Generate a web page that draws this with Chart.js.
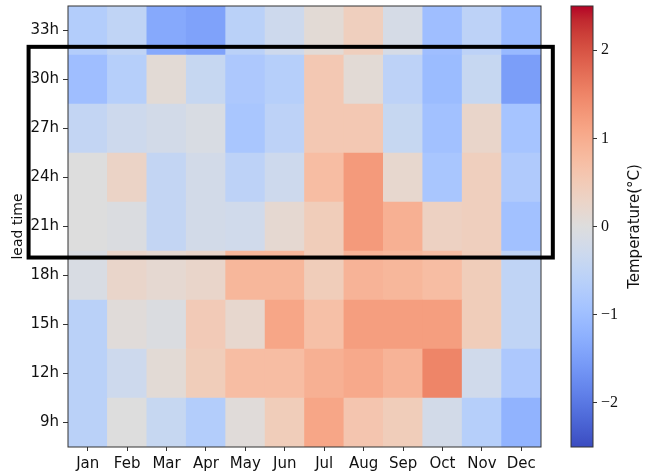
<!DOCTYPE html>
<html>
<head>
<meta charset="utf-8">
<script src="https://cdn.jsdelivr.net/npm/chart.js@4.4.0/dist/chart.umd.min.js"></script>
<style>
body { margin: 0; background: #fff; }
#wrap { position: relative; width: 646px; height: 474px; }
#heat { position: absolute; left: 0; top: 0; }
#cbar { position: absolute; left: 541px; top: 0; }
</style>
</head>
<body>
<div id="wrap">
  <canvas id="heat" width="646" height="474"></canvas>
  <canvas id="cbar" width="105" height="474"></canvas>
</div>
<script>
// categories
var months = ["Jan", "Feb", "Mar", "Apr", "May", "Jun", "Jul", "Aug", "Sep", "Oct", "Nov", "Dec"];
var leadTimes = [9, 12, 15, 18, 21, 24, 27, 30, 33];

// temperature bias (°C) per lead time, Jan..Dec
var lt09 = [-0.6, 0.0, -0.4, -0.7, 0.05, 0.45, 1.1, 0.6, 0.45, -0.2, -0.65, -1.2];
var lt12 = [-0.6, -0.3, 0.1, 0.45, 0.75, 0.75, 0.95, 1.05, 0.9, 1.5, -0.25, -0.8];
var lt15 = [-0.6, 0.05, -0.05, 0.5, 0.2, 1.1, 0.7, 1.2, 1.2, 1.2, 0.45, -0.5];
var lt18 = [-0.1, 0.25, 0.15, 0.25, 0.85, 0.85, 0.45, 0.9, 0.85, 0.75, 0.45, -0.5];
var lt21 = [0.0, -0.05, -0.45, -0.2, -0.25, 0.15, 0.45, 1.25, 0.95, 0.35, 0.4, -0.95];
var lt24 = [0.0, 0.3, -0.45, -0.2, -0.55, -0.3, 0.75, 1.25, 0.2, -0.85, 0.4, -0.75];
var lt27 = [-0.45, -0.3, -0.2, -0.1, -0.85, -0.55, 0.55, 0.55, -0.4, -0.95, 0.25, -0.9];
var lt30 = [-1.0, -0.65, 0.1, -0.4, -0.8, -0.65, 0.55, 0.1, -0.55, -1.05, -0.4, -1.5];
var lt33 = [-0.7, -0.5, -1.35, -1.45, -0.6, -0.3, 0.1, 0.4, -0.15, -1.0, -0.55, -1.1];
var biasRows = [lt09, lt12, lt15, lt18, lt21, lt24, lt27, lt30, lt33];

// colour bar
var cbTicks = [-2, -1, 0, 1, 2];
var vmin = -2.5, vmax = 2.5;

// highlighted region (month index / hours)
var boxX = [-1.5, 11.8];
var boxY = [19.1, 32];

// matplotlib coolwarm
var cw = [
  [59,76,192],[68,90,204],[77,104,215],[87,117,225],[98,130,234],[108,142,241],
  [119,154,247],[130,165,251],[141,176,254],[152,185,255],[163,194,255],[174,201,253],
  [184,208,249],[194,213,244],[204,217,238],[213,219,230],[221,221,221],[229,216,209],
  [236,211,197],[241,204,185],[245,196,173],[247,187,160],[247,177,148],[247,166,135],
  [244,154,123],[241,141,111],[236,127,99],[229,112,88],[222,96,77],[213,80,66],
  [203,62,56],[192,40,47],[180,4,38]
];
function coolwarm(v) {
  var t = Math.max(0, Math.min(1, (v - vmin) / (vmax - vmin))) * (cw.length - 1);
  var i = Math.min(Math.floor(t), cw.length - 2), f = t - i;
  var c = cw[i].map(function (a, k) { return Math.round(a + (cw[i + 1][k] - a) * f); });
  return 'rgb(' + c.join(',') + ')';
}

var tickFont = { family: 'DejaVu Sans', size: 15 };

var frame = {
  id: 'frame',
  afterDatasetsDraw: function (chart) {
    var a = chart.chartArea, ctx = chart.ctx;
    ctx.save();
    ctx.strokeStyle = '#333';
    ctx.lineWidth = 1;
    ctx.strokeRect(a.left, a.top, a.right - a.left, a.bottom - a.top);
    ctx.restore();
  }
};

var highlight = {
  id: 'highlight',
  afterDraw: function (chart) {
    var x = chart.scales.x, y = chart.scales.y, ctx = chart.ctx;
    var x0 = x.getPixelForValue(boxX[0]), x1 = x.getPixelForValue(boxX[1]);
    var y0 = y.getPixelForValue(boxY[1]), y1 = y.getPixelForValue(boxY[0]);
    ctx.save();
    ctx.strokeStyle = '#000';
    ctx.lineWidth = 4;
    ctx.strokeRect(x0, y0, x1 - x0, y1 - y0);
    ctx.restore();
  }
};

new Chart(document.getElementById('heat'), {
  type: 'bar',
  data: {
    labels: months,
    datasets: leadTimes.map(function (lt, i) {
      return {
        label: lt + 'h',
        data: biasRows[i].map(function () { return [lt - 1.5, lt + 1.5]; }),
        backgroundColor: biasRows[i].map(coolwarm),
        borderWidth: 0,
        barPercentage: 1,
        categoryPercentage: 1,
        grouped: false
      };
    })
  },
  options: {
    responsive: false,
    animation: false,
    layout: { padding: { top: 6, right: 105 } },
    plugins: { legend: { display: false }, tooltip: { enabled: false } },
    scales: {
      x: {
        grid: { drawOnChartArea: false, offset: false, tickLength: 4, color: '#333' },
        border: { display: false },
        ticks: { font: tickFont, color: '#111', padding: 4 },
        afterFit: function (s) { s.height = 27; s.paddingLeft = 0; s.paddingRight = 0; }
      },
      y: {
        min: 7.5, max: 34.5,
        afterBuildTicks: function (s) { s.ticks = leadTimes.map(function (v) { return { value: v }; }); },
        grid: { drawOnChartArea: false, tickLength: 5, color: '#333' },
        border: { display: false },
        ticks: { font: tickFont, color: '#111', padding: 4, callback: function (v) { return v + 'h'; } },
        title: { display: true, text: 'lead time', font: { family: 'DejaVu Sans', size: 14 }, color: '#111', padding: { top: 10, bottom: 0 } },
        afterFit: function (s) { s.width = 68; s.paddingTop = 0; s.paddingBottom = 0; }
      }
    }
  },
  plugins: [frame, highlight]
});

var cbTitle = {
  id: 'cbTitle',
  afterDraw: function (chart) {
    var a = chart.chartArea, ctx = chart.ctx;
    ctx.save();
    ctx.translate(chart.width - 11, (a.top + a.bottom) / 2);
    ctx.rotate(-Math.PI / 2);
    ctx.font = '15px "DejaVu Sans"';
    ctx.fillStyle = '#111';
    ctx.textAlign = 'center';
    ctx.textBaseline = 'middle';
    ctx.fillText('Temperature(\u00B0C)', 0, 0);
    ctx.restore();
  }
};

var grad = null;
function cbGradient(chart) {
  var a = chart.chartArea;
  if (!a) return '#ddd';
  if (!grad) {
    grad = chart.ctx.createLinearGradient(0, a.bottom, 0, a.top);
    cw.forEach(function (c, i) { grad.addColorStop(i / (cw.length - 1), 'rgb(' + c.join(',') + ')'); });
  }
  return grad;
}

new Chart(document.getElementById('cbar'), {
  type: 'bar',
  data: {
    labels: [''],
    datasets: [{
      data: [[vmin, vmax]],
      backgroundColor: function (c) { return cbGradient(c.chart); },
      borderWidth: 0,
      barPercentage: 1,
      categoryPercentage: 1
    }]
  },
  options: {
    responsive: false,
    animation: false,
    layout: { padding: { left: 30, top: 6, bottom: 27, right: 0 } },
    plugins: { legend: { display: false }, tooltip: { enabled: false } },
    scales: {
      x: { display: false },
      y: {
        position: 'right',
        min: vmin, max: vmax,
        afterBuildTicks: function (s) { s.ticks = cbTicks.map(function (v) { return { value: v }; }); },
        grid: { drawOnChartArea: false, tickLength: 4, color: '#333' },
        border: { display: false },
        ticks: {
          font: { family: 'Liberation Serif', size: 16 }, color: '#111', padding: 4,
          callback: function (v) { return String(v).replace('-', '\u2212'); }
        },
        afterFit: function (s) { s.width = 53; s.paddingTop = 0; s.paddingBottom = 0; }
      }
    }
  },
  plugins: [frame, cbTitle]
});
</script>
</body>
</html>
